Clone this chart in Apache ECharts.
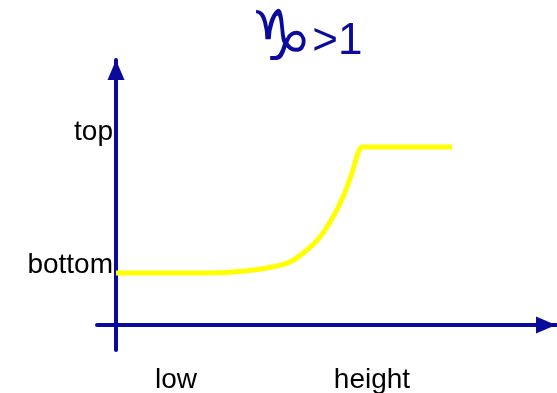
<!DOCTYPE html>
<html>
<head>
<meta charset="utf-8">
<script src="https://cdn.jsdelivr.net/npm/echarts@6/dist/echarts.min.js"></script>
<style>
  html, body { margin: 0; padding: 0; background: #fff; }
  #chart { width: 557px; height: 393px; }
</style>
</head>
<body>
<div id="chart"></div>
<script>
// units are roughly screen pixels measured from the axes' crossing
const curveX = [0, 84, 117, 151, 174, 191, 204, 217, 227, 236, 242, 246, 336];
const curveY = [52, 52, 53, 57, 63, 75, 88, 108, 128, 152, 172, 178, 178];
const xTickValues = [60, 256];
const xTickLabels = ["low", "height"];
const yTickValues = [60, 193];
const yTickLabels = ["bottom", "top"];

const blue = "#0a0a9c";
const chart = echarts.init(document.getElementById("chart"));

const lineData = curveX.map((x, i) => [x, curveY[i]]);

chart.setOption({
  animation: false,
  title: {
    text: "{sym|\u2651}{txt|>1}",
    left: 301,
    top: 2,
    textAlign: "center",
    textStyle: {
      fontWeight: "normal",
      rich: {
        sym: { color: blue, fontSize: 70, fontWeight: "normal", fontFamily: "DejaVu Sans", padding: [0, 0, 0, 0] },
        txt: { color: blue, fontSize: 44, fontWeight: "normal", fontFamily: "Liberation Sans" }
      }
    }
  },
  grid: { left: 97, right: 1, top: 60, bottom: 43, outerBoundsMode: "none", containLabel: false },
  xAxis: {
    type: "value",
    min: -19,
    max: 440,
    splitLine: { show: false },
    axisTick: { show: false },
    axisLine: {
      onZero: true,
      symbol: ["none", "triangle"],
      symbolSize: [17, 20],
      symbolOffset: [0, -10],
      lineStyle: { color: blue, width: 4 }
    },
    axisLabel: {
      customValues: xTickValues,
      formatter: (v) => xTickLabels[xTickValues.indexOf(v)],
      margin: 16,
      color: "#000",
      fontSize: 28,
      fontFamily: "Liberation Sans"
    }
  },
  yAxis: {
    type: "value",
    min: -25,
    max: 265,
    splitLine: { show: false },
    axisTick: { show: false },
    axisLine: {
      onZero: true,
      symbol: ["none", "triangle"],
      symbolSize: [17, 20],
      symbolOffset: [0, -10],
      lineStyle: { color: blue, width: 4 }
    },
    axisLabel: {
      customValues: yTickValues,
      formatter: (v) => yTickLabels[yTickValues.indexOf(v)],
      margin: -16,
      color: "#000",
      fontSize: 28,
      fontFamily: "Liberation Sans"
    }
  },
  series: [{
    type: "line",
    data: lineData,
    smooth: 0.2,
    showSymbol: false,
    lineStyle: { color: "#ffff00", width: 5 }
  }]
});
</script>
</body>
</html>
